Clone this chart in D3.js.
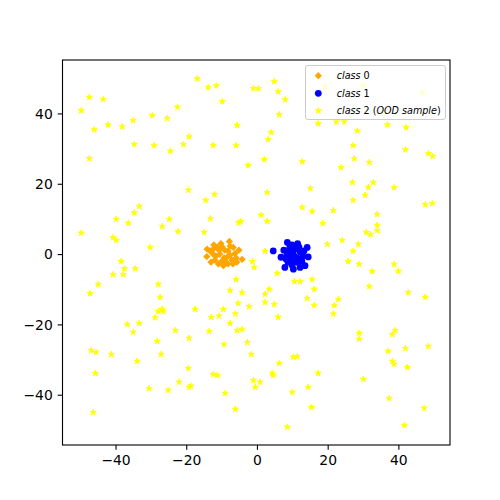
<!DOCTYPE html>
<html>
<head>
<meta charset="utf-8">
<script src="https://cdn.jsdelivr.net/npm/d3@7"></script>
<style>
  body { margin: 0; background: #fff; }
  svg { display: block; }
  .axis text { font-family: "DejaVu Sans", sans-serif; font-size: 13.9px; fill: #000; }
  .axis line { stroke: #000; stroke-width: 1.1px; }
  .legend text { font-family: "DejaVu Sans", sans-serif; font-size: 9.6px; fill: #000; }
</style>
</head>
<body>
<script>
// class 0 (orange diamonds)
var class0 = [
  [-7.8, 3.6], [-4.2, -1.5], [-14.2, -0.7], [-14.1, 1.4], [-6.7, 1.9], [-6.2, 0.2],
  [-10.9, -2.8], [-9.5, -3.3], [-12.4, 1.4], [-11.3, 2.0], [-9.9, 2.1], [-9.1, 1.1],
  [-12.4, 0.0], [-10.5, 0.0], [-8.5, -0.9], [-7.1, -1.7], [-11.9, -1.7], [-13.0, -2.3],
  [-8.8, -2.3], [-7.6, -0.3], [-5.9, -1.1], [-10.7, 1.1], [-8.2, 0.9], [-9.3, -1.1],
  [-11.6, -0.6], [-6.8, -2.8], [-13.3, 0.9], [-10.2, 3.0], [-7.6, 2.3], [-5.1, 1.1],
  [-12.2, 2.6], [-9.9, -2.0], [-11.0, 1.7], [-5.7, -2.3], [-8.2, -2.8]
];

// class 1 (blue circles)
var class1 = [
  [4.6, 0.9], [6.8, -0.9], [8.6, 3.3], [11.5, 3.0], [14.2, 1.9], [14.5, -0.8],
  [13.6, -3.3], [10.3, -4.3], [7.9, -3.8], [12.2, -3.8], [9.3, 1.9], [10.2, 0.0],
  [12.2, 0.6], [11.3, -1.1], [12.7, -2.0], [8.8, -2.3], [9.6, -1.4], [10.7, 1.4],
  [8.5, 0.0], [13.0, -0.6], [9.1, -0.9], [11.0, -2.3], [9.9, -3.1], [7.6, 1.1],
  [11.9, 2.0], [13.3, 0.9], [8.2, -1.4], [10.5, -0.6], [9.3, 0.6], [11.6, -2.3], [9.9, 2.6]
];

// class 2 (OOD sample, yellow stars)
var class2 = [
  [-49.7, 40.8], [-47.4, 44.6], [-43.5, 44.0], [-46.0, 35.4], [-42.1, 36.8], [-38.1, 36.3],
  [-35.0, 38.0], [-29.6, 39.4], [-25.4, 38.6], [-22.5, 41.8], [-19.2, 33.4], [-20.8, 31.2],
  [-24.5, 29.3], [-29.1, 30.9], [-34.7, 31.2], [-47.4, 27.2], [-19.4, 18.2],
  [-16.9, 49.9], [-13.8, 47.4], [-11.5, 47.9], [-9.8, 43.4], [-1.0, 47.1], [0.4, 47.1],
  [4.9, 49.1], [6.0, 46.2], [8.0, 43.9], [6.3, 39.7], [-5.6, 36.6], [4.0, 34.6],
  [3.2, 32.6], [-12.4, 30.9], [-5.9, 30.9], [2.1, 26.9], [-2.5, 25.2], [12.8, 26.3],
  [15.1, 18.7], [17.3, 37.1],
  [19.2, 47.7], [30.1, 48.0], [46.8, 45.9], [35.7, 40.3], [22.5, 37.6], [24.7, 37.6],
  [28.4, 35.0], [36.9, 36.8], [42.2, 36.0], [27.2, 30.9], [42.0, 29.7], [48.5, 28.6],
  [49.7, 27.8], [27.5, 27.2], [31.8, 26.1], [23.8, 24.6], [27.0, 20.4], [32.9, 20.4],
  [31.5, 19.0], [38.8, 18.9],
  [-33.3, 13.6], [-34.7, 11.8], [-39.8, 9.9], [-36.4, 8.8], [-24.8, 9.9], [-26.8, 7.9],
  [-22.3, 6.4], [-49.7, 6.0], [-40.7, 4.7], [-39.8, 3.9], [-30.2, 1.9], [-38.4, -2.1],
  [-37.5, -4.1], [-34.4, -4.1], [-40.7, -5.8], [-37.8, -5.8], [-44.9, -8.6], [-47.2, -11.2],
  [-27.9, -8.6], [-27.4, -12.3], [-26.8, -15.7], [-27.9, -16.3], [-26.5, -16.3], [-28.8, -18.1],
  [-12.0, 17.0], [-14.5, 15.3], [2.9, 17.5], [-13.2, 10.1], [-5.2, 8.9], [-4.6, 9.3],
  [1.2, 11.1], [2.9, 9.3], [12.8, 13.3], [15.6, 12.1], [18.6, 8.7], [-14.9, 6.2],
  [2.3, 0.8], [-1.3, -2.1], [-0.8, -3.8], [-5.9, -7.2], [5.7, -5.5], [10.6, -7.8],
  [12.2, -7.8], [15.6, -7.2], [16.2, -10.0], [-7.6, -10.3], [-4.2, -10.9], [3.5, -10.0],
  [2.3, -11.4], [14.2, -12.6], [-5.3, -14.0], [2.3, -13.7], [4.9, -14.3], [-2.2, -14.9],
  [16.2, -14.6], [-9.5, -15.7], [-17.5, -15.7], [-6.1, -17.0], [-10.7, -17.6], [-12.9, -18.0],
  [6.0, -17.9],
  [27.2, 15.3], [30.6, 16.7], [47.6, 14.1], [49.6, 14.4], [21.6, 12.4], [34.0, 11.3],
  [34.0, 8.2], [34.0, 6.7], [30.9, 6.2], [32.1, 5.6], [19.9, 2.8], [24.1, 3.9],
  [28.7, 2.8], [27.2, 0.8], [25.8, -2.1], [28.9, -2.9], [32.6, -4.9], [38.8, -2.9],
  [40.0, -4.9], [31.8, -9.2], [42.8, -10.9], [47.6, -12.3], [23.0, -12.9], [21.9, -14.6],
  [21.6, -17.0],
  [-36.7, -20.0], [-33.3, -19.7], [-35.0, -22.2], [-23.1, -21.7], [-19.2, -23.9], [-28.2, -24.8],
  [-46.9, -27.4], [-45.5, -27.9], [-41.2, -28.5], [-33.9, -30.5], [-27.1, -28.5], [-19.4, -32.5],
  [-45.7, -33.9], [-30.5, -38.2], [-25.1, -38.7], [-22.0, -36.4], [-19.2, -37.9], [-18.7, -37.5],
  [-46.3, -45.0],
  [-7.6, -19.7], [-13.5, -22.0], [-5.6, -21.7], [-4.2, -21.4], [-9.3, -25.7], [-2.7, -25.1],
  [-1.6, -28.5], [6.3, -31.1], [10.3, -29.3], [11.4, -29.1], [17.3, -33.9], [-12.4, -34.2],
  [-11.2, -34.5], [4.3, -33.9], [4.6, -34.5], [-1.0, -35.9], [0.9, -36.4], [-0.5, -37.9],
  [-9.0, -39.6], [14.5, -37.9], [10.0, -39.3], [15.4, -43.6], [-6.1, -44.1], [8.6, -49.2],
  [28.9, -22.5], [28.9, -24.2], [39.1, -21.7], [38.3, -22.8], [42.0, -26.8], [48.5, -26.2],
  [37.1, -27.6], [38.3, -30.5], [38.8, -31.3], [42.5, -32.2], [30.1, -35.6], [37.4, -41.0],
  [47.3, -43.8], [41.7, -48.7]
];

var tickValues = [-40, -20, 0, 20, 40];
var xDomain = [-55.0, 54.6];
var yDomain = [-54.3, 55.2];

var width = 500, height = 500;
var margin = {top: 60, right: 50, bottom: 55, left: 62.5};

var svg = d3.select('body').append('svg')
    .attr('width', width)
    .attr('height', height);

var xScale = d3.scaleLinear().domain(xDomain).range([margin.left, width - margin.right]);
var yScale = d3.scaleLinear().domain(yDomain).range([height - margin.bottom, margin.top]);

var tickLen = 4.86;

// axes
svg.append('g')
    .attr('class', 'axis')
    .attr('transform', 'translate(0,' + (height - margin.bottom) + ')')
    .call(d3.axisBottom(xScale).tickValues(tickValues).tickSize(tickLen).tickPadding(4.9))
    .call(function(g) { g.select('.domain').remove(); });

svg.append('g')
    .attr('class', 'axis')
    .attr('transform', 'translate(' + margin.left + ',0)')
    .call(d3.axisLeft(yScale).tickValues(tickValues).tickSize(tickLen).tickPadding(4.9))
    .call(function(g) { g.select('.domain').remove(); })
    .selectAll('text').attr('dy', '0.35em');

var plot = svg.append('g');

var diamond = d3.symbol().type(d3.symbolSquare).size(26)();
var circle = d3.symbol().type(d3.symbolCircle).size(36)();
var star = d3.symbol().type(d3.symbolStar).size(12)();

plot.selectAll('path.c0').data(class0).enter().append('path')
    .attr('class', 'c0')
    .attr('d', diamond)
    .attr('transform', function(d) { return 'translate(' + xScale(d[0]) + ',' + yScale(d[1]) + ') rotate(45)'; })
    .attr('fill', '#ffa500');

plot.selectAll('path.c1').data(class1).enter().append('path')
    .attr('class', 'c1')
    .attr('d', circle)
    .attr('transform', function(d) { return 'translate(' + xScale(d[0]) + ',' + yScale(d[1]) + ')'; })
    .attr('fill', '#0000ff');

plot.selectAll('path.c2').data(class2).enter().append('path')
    .attr('class', 'c2')
    .attr('d', star)
    .attr('transform', function(d) { return 'translate(' + xScale(d[0]) + ',' + yScale(d[1]) + ')'; })
    .attr('fill', '#ffff00')
    .attr('stroke', '#ffff00')
    .attr('stroke-width', 0.8);

// frame
svg.append('rect')
    .attr('x', margin.left)
    .attr('y', margin.top)
    .attr('width', width - margin.left - margin.right)
    .attr('height', height - margin.top - margin.bottom)
    .attr('fill', 'none')
    .attr('stroke', '#000')
    .attr('stroke-width', 1.1);

// legend
var legend = svg.append('g').attr('class', 'legend');
legend.append('rect')
    .attr('x', 305.5).attr('y', 65.5)
    .attr('width', 140).attr('height', 54)
    .attr('rx', 2.5)
    .attr('fill', 'rgba(255,255,255,0.8)')
    .attr('stroke', '#cccccc')
    .attr('stroke-width', 1);

var rows = [
  {path: diamond, rot: true, fill: '#ffa500', parts: [['class', true], [' 0', false]]},
  {path: circle, rot: false, fill: '#0000ff', parts: [['class', true], [' 1', false]]},
  {path: star, rot: false, fill: '#ffff00', parts: [['class', true], [' 2 (', false], ['OOD sample', true], [')', false]]}
];
var rowY = [75.7, 93.3, 110.7];

rows.forEach(function(r, i) {
  legend.append('path')
      .attr('d', r.path)
      .attr('transform', 'translate(318.3,' + rowY[i] + ')' + (r.rot ? ' rotate(45)' : ''))
      .attr('fill', r.fill)
      .attr('stroke', r.path === star ? r.fill : 'none')
      .attr('stroke-width', 0.8);
  var t = legend.append('text')
      .attr('x', 336.7)
      .attr('y', rowY[i])
      .attr('dy', '0.35em');
  r.parts.forEach(function(p) {
    t.append('tspan')
        .attr('font-style', p[1] ? 'italic' : 'normal')
        .text(p[0]);
  });
});
</script>
</body>
</html>
